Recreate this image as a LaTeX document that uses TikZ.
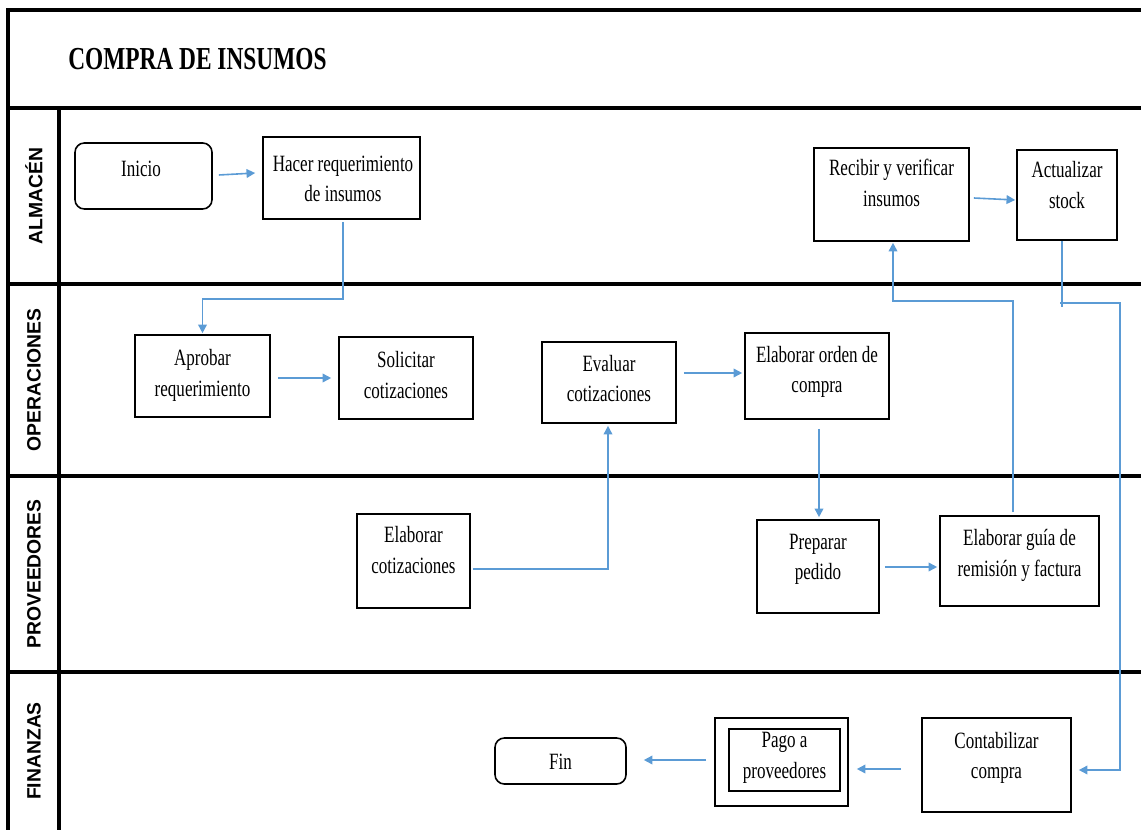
\documentclass[tikz,border=0pt]{standalone}
\usepackage{fontspec}
\setmainfont{Liberation Serif}[FakeStretch=0.73]
\newfontfamily\lanefont{Liberation Sans}
\usetikzlibrary{arrows.meta,calc}
\definecolor{flowblue}{HTML}{5B9BD5}
\tikzset{
  sz/.style 2 args={minimum width=#1*0.75pt, minimum height=#2*0.75pt},
  box/.style={draw=black, line width=1.2pt, inner sep=0pt},
  terminal/.style={box, rounded corners=7pt},
  txt/.style={align=center, inner sep=0pt, font=\fontsize{17.5}{23}\selectfont},
  lane/.style={rotate=90, inner sep=0pt, font=\lanefont\bfseries\fontsize{14.5}{17}\selectfont},
  frame/.style={line width=2.6pt, black},
  flow/.style={draw=flowblue, line width=1.2pt, -{Triangle[length=6.5pt,width=6.5pt]}},
  flowline/.style={draw=flowblue, line width=1.2pt}
}
\begin{document}
\begin{tikzpicture}[x=0.75pt,y=-0.75pt]
\useasboundingbox (0,0) rectangle (1141,830);

% swimlane frame
\draw[frame] (1141,10) -- (8,10) -- (8,830);
\draw[frame] (8,108) -- (1141,108);
\draw[frame] (59,108) -- (59,830);
\draw[frame] (8,284) -- (1141,284);
\draw[frame] (8,476) -- (1141,476);
\draw[frame] (8,672) -- (1141,672);

\node[anchor=base west, inner sep=0pt, font=\bfseries\fontsize{24}{28}\selectfont] (title) at (68,70) {COMPRA DE INSUMOS};

% lane names
\node[lane] (l-alm) at (34,196) {ALMACÉN};
\node[lane] (l-ope) at (34,380) {OPERACIONES};
\node[lane] (l-pro) at (34,574) {PROVEEDORES};
\node[lane] (l-fin) at (34,751) {FINANZAS};

% process boxes
\node[terminal, sz={137}{66}] (inicio) at (143.5,176) {};
\node[txt] (t-inicio) at (141,169) {Inicio};

\node[box, sz={157}{82}] (hacer) at (341.5,178) {};
\node[txt] (t-hacer) at (343,179) {Hacer requerimiento\\de insumos};

\node[box, sz={155}{93}] (recibir) at (891.5,194.5) {};
\node[txt] (t-recibir) at (891.5,183) {Recibir y verificar\\insumos};

\node[box, sz={100}{90}] (actualizar) at (1067,195) {};
\node[txt] (t-actualizar) at (1067,185) {Actualizar\\stock};

\node[box, sz={135}{82}] (aprobar) at (202.5,376) {};
\node[txt] (t-aprobar) at (202.5,375.5) {Aprobar\\requerimiento};

\node[box, sz={134}{82}] (solicitar) at (406,378) {};
\node[txt] (t-solicitar) at (406,375) {Solicitar\\cotizaciones};

\node[box, sz={134}{81}] (evaluar) at (609,382.5) {};
\node[txt] (t-evaluar) at (609,378.5) {Evaluar\\cotizaciones};

\node[box, sz={144}{86}] (orden) at (817,376) {};
\node[txt] (t-orden) at (817,372) {Elaborar orden de\\compra};

\node[box, sz={113}{94}] (elabcot) at (413.5,561) {};
\node[txt] (t-elabcot) at (413.5,550) {Elaborar\\cotizaciones};

\node[box, sz={122}{93}] (preparar) at (818,566.5) {};
\node[txt] (t-preparar) at (818,559.5) {Preparar\\pedido};

\node[box, sz={159}{90}] (guia) at (1019.5,561) {};
\node[txt] (t-guia) at (1019.5,555.5) {Elaborar guía de\\remisión y factura};

\node[box, sz={149}{94}] (contab) at (996.5,765) {};
\node[txt] (t-contab) at (996.5,758) {Contabilizar\\compra};

\node[box, sz={133}{88}] (pago) at (781.5,762) {};
\node[box, sz={111}{62}] (pagoin) at (784.5,760) {};
\node[txt] (t-pago) at (784.5,758) {Pago a\\proveedores};

\node[terminal, sz={131}{46}] (fin) at (560.5,761) {};
\node[txt] (t-fin) at (560.5,762) {Fin};

% connectors
\draw[flow] ($(inicio.east)+(6,-1)$) -- ($(hacer.west)+(-7,-5)$);
\draw[flow] ($(hacer.south)+(1.5,2)$) |- ($(aprobar.north)+(0,-35)$) -- ($(aprobar.north)+(0,-1)$);
\draw[flow] ($(aprobar.east)+(7,2)$) -- ($(solicitar.west)+(-7,0)$);
\draw[flow] ($(elabcot.east)+(2,8)$) -| ($(evaluar.south)+(-1,2)$);
\draw[flow] ($(evaluar.east)+(7,-9.5)$) -- ($(orden.west)+(-2,-3)$);
\draw[flow] ($(orden.south)+(2,9)$) -- ($(preparar.north)+(1,-2)$);
\draw[flow] ($(preparar.east)+(5,0.5)$) -- ($(guia.west)+(-2,6)$);
\draw[flow] ($(guia.north)+(-6.5,-3)$) |- ($(recibir.south)+(1.5,59)$) -- ($(recibir.south)+(1.5,1)$);
\draw[flow] ($(recibir.east)+(4,3.5)$) -- ($(actualizar.west)+(-1,5)$);
\draw[flowline] ($(actualizar.south)+(-5,0)$) -- ($(actualizar.south)+(-5,66)$);
\draw[flow] ($(actualizar.south)+(-7,62)$) -| ($(contab.east)+(48,5)$) -- ($(contab.east)+(7,5)$);
\draw[flow] ($(contab.west)+(-20,4)$) -- ($(pago.east)+(8,7)$);
\draw[flow] ($(pago.west)+(-8,-2)$) -- ($(fin.east)+(17,-1)$);
\end{tikzpicture}
\end{document}
